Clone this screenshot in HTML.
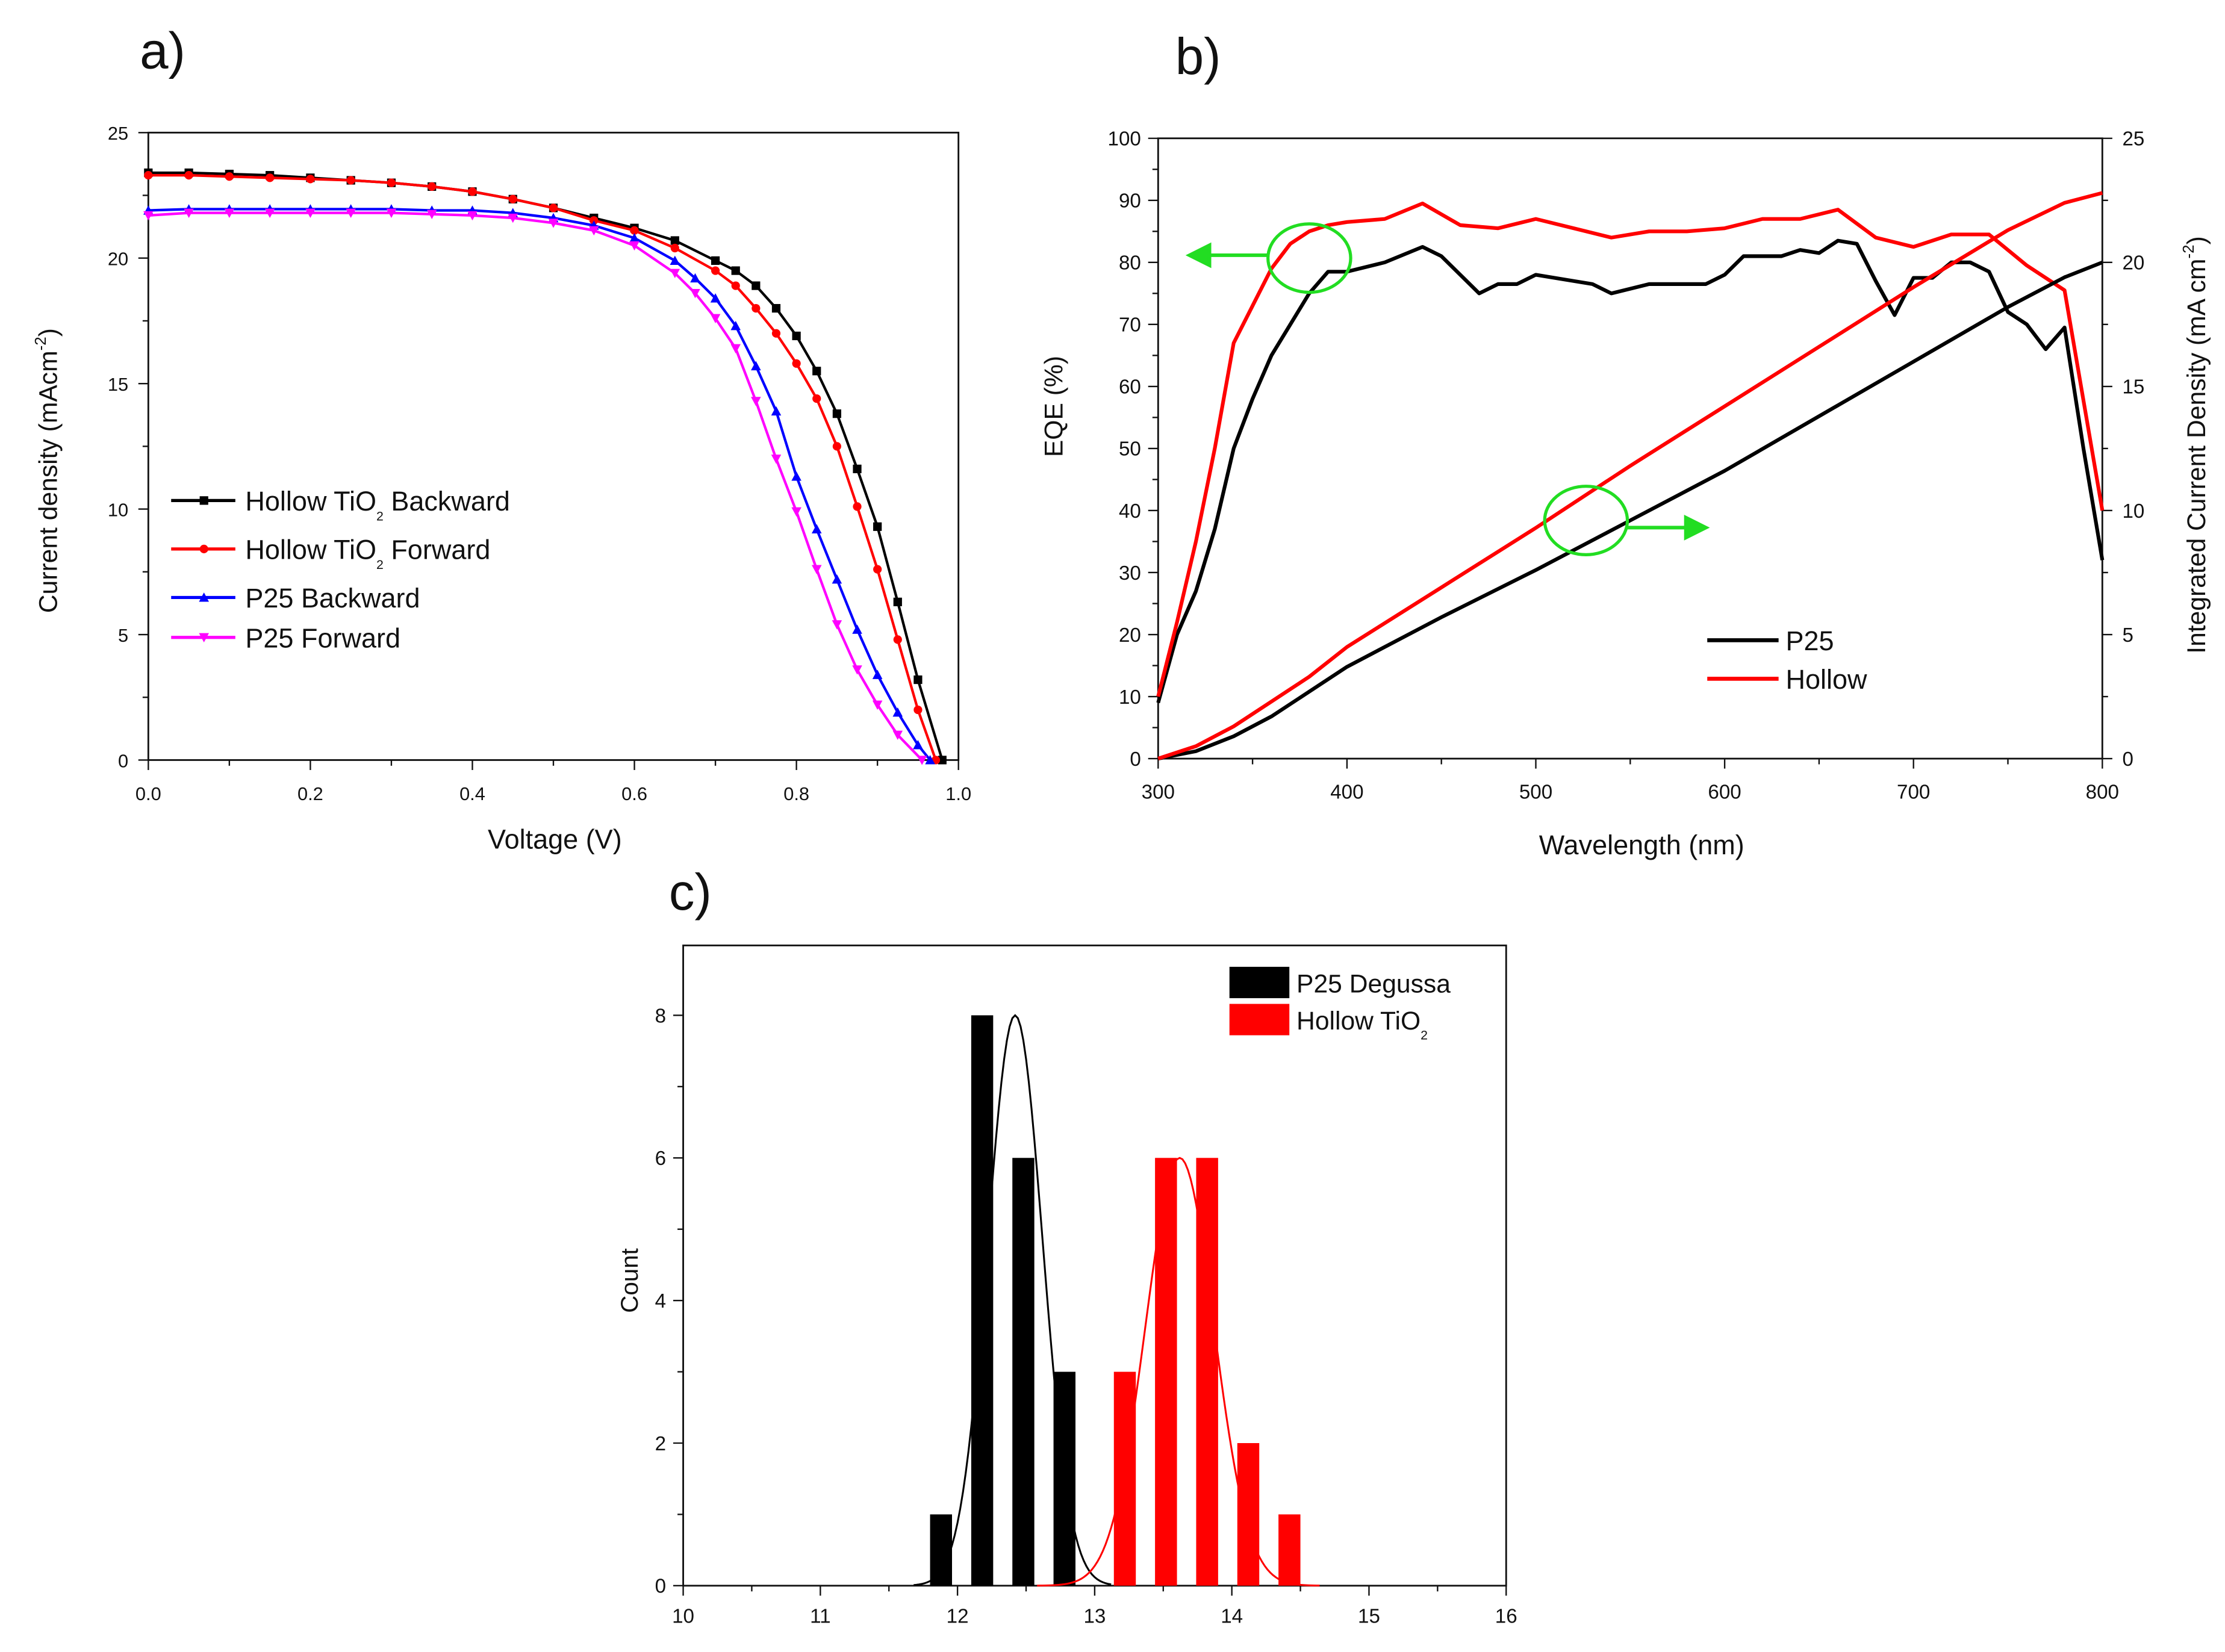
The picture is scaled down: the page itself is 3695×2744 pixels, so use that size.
<!DOCTYPE html>
<html><head><meta charset="utf-8"><style>
html,body{margin:0;padding:0;background:#fff;}
svg{display:block;font-family:"Liberation Sans",sans-serif;}
</style></head><body>
<svg id="fig" width="3695" height="2744" viewBox="0 0 1560 1158.5" preserveAspectRatio="none" xmlns="http://www.w3.org/2000/svg"></svg>
<script>
// ---------- Panel a data ----------
const jvHBV = [0,0.05,0.1,0.15,0.2,0.25,0.3,0.35,0.4,0.45,0.5,0.55,0.6,0.65,0.7,0.725,0.75,0.775,0.8,0.825,0.85,0.875,0.9,0.925,0.95,0.98];
const jvHBJ = [23.4,23.4,23.35,23.3,23.2,23.1,23.0,22.85,22.65,22.35,22.0,21.6,21.2,20.7,19.9,19.5,18.9,18.0,16.9,15.5,13.8,11.6,9.3,6.3,3.2,0];
const jvHFV = [0,0.05,0.1,0.15,0.2,0.25,0.3,0.35,0.4,0.45,0.5,0.55,0.6,0.65,0.7,0.725,0.75,0.775,0.8,0.825,0.85,0.875,0.9,0.925,0.95,0.972];
const jvHFJ = [23.3,23.3,23.25,23.2,23.15,23.1,23.0,22.85,22.65,22.35,22.0,21.5,21.1,20.4,19.5,18.9,18.0,17.0,15.8,14.4,12.5,10.1,7.6,4.8,2.0,0];
const jvPBV = [0,0.05,0.1,0.15,0.2,0.25,0.3,0.35,0.4,0.45,0.5,0.55,0.6,0.65,0.675,0.7,0.725,0.75,0.775,0.8,0.825,0.85,0.875,0.9,0.925,0.95,0.965];
const jvPBJ = [21.9,21.95,21.95,21.95,21.95,21.95,21.95,21.9,21.9,21.8,21.6,21.3,20.8,19.9,19.2,18.4,17.3,15.7,13.9,11.3,9.2,7.2,5.2,3.4,1.9,0.6,0];
const jvPFV = [0,0.05,0.1,0.15,0.2,0.25,0.3,0.35,0.4,0.45,0.5,0.55,0.6,0.65,0.675,0.7,0.725,0.75,0.775,0.8,0.825,0.85,0.875,0.9,0.925,0.955];
const jvPFJ = [21.7,21.8,21.8,21.8,21.8,21.8,21.8,21.75,21.7,21.6,21.4,21.1,20.5,19.4,18.6,17.6,16.4,14.3,12.0,9.9,7.6,5.4,3.6,2.2,1.0,0];
const aXTicks = [0,0.2,0.4,0.6,0.8,1.0];
const aXLabels = ["0.0","0.2","0.4","0.6","0.8","1.0"];
const aYTicks = [0,5,10,15,20,25];
// ---------- Panel b data ----------
const eqeP25W = [300,310,320,330,340,350,360,370,380,390,400,420,440,450,460,470,480,490,500,520,530,540,560,580,590,600,610,630,640,650,660,670,680,690,700,710,720,730,740,750,760,770,780,790,800];
const eqeP25 = [9,20,27,37,50,58,65,70,75,78.5,78.5,80,82.5,81,78,75,76.5,76.5,78,77,76.5,75,76.5,76.5,76.5,78,81,81,82,81.5,83.5,83,77,71.5,77.5,77.5,80,80,78.5,72,70,66,69.5,50,32];
const eqeHolW = [300,310,320,330,340,350,360,370,380,390,400,420,440,460,480,500,520,540,560,580,600,620,640,660,680,700,720,740,760,780,800];
const eqeHol = [10,22,35,50,67,73,79,83,85,86,86.5,87,89.5,86,85.5,87,85.5,84,85,85,85.5,87,87,88.5,84,82.5,84.5,84.5,79.5,75.5,40];
const intW = [300,320,340,360,380,400,450,500,550,600,650,700,750,780,800];
const intP25 = [0,0.3,0.9,1.7,2.7,3.7,5.7,7.6,9.6,11.6,13.8,16.0,18.2,19.4,20];
const intHol = [0,0.5,1.3,2.3,3.3,4.5,6.9,9.3,11.8,14.2,16.6,19.0,21.3,22.4,22.8];
const bXTicks = [300,400,500,600,700,800];
const bYTicks = [0,10,20,30,40,50,60,70,80,90,100];
const bY2Ticks = [0,5,10,15,20,25];
// ---------- Panel c data ----------
const histP25X = [11.88,12.18,12.48,12.78];
const histP25N = [1,8,6,3];
const histHolX = [13.22,13.52,13.82,14.12,14.42];
const histHolN = [3,6,6,2,1];
const fitP25 = [12.42,8,0.2];   // center, height, sigma
const fitHol = [13.62,6,0.25];
const cXTicks = [10,11,12,13,14,15,16];
const cYTicks = [0,2,4,6,8];

const NS="http://www.w3.org/2000/svg";
const svg=document.getElementById('fig');
function mk(tag,attrs,parent){const e=document.createElementNS(NS,tag);for(const k in attrs)e.setAttribute(k,attrs[k]);(parent||svg).appendChild(e);return e;}
function txt(s,x,y,size,anchor,parent,extra){const t=mk('text',Object.assign({x:x,y:y,'font-size':size,'text-anchor':anchor||'middle',fill:'#111'},extra||{}),parent);t.textContent=s;return t;}

// ===== Panel a =====
const ga=mk('g',{});


const aL=104,aR=672,aT=93,aB=533;
const ax=v=>aL+(v-0)/(1.0)*(aR-aL), ay=j=>aB-(j/25)*(aB-aT);
const aBox=mk('rect',{x:aL,y:aT,width:aR-aL,height:aB-aT,fill:'none',stroke:'#111','stroke-width':1.2},ga);


for(let i=0;i<=10;i++){const v=i*0.1;mk('line',{x1:ax(v),x2:ax(v),y1:aB,y2:aB+(i%2?4:7),stroke:'#111','stroke-width':1},ga);}
aXTicks.forEach((v,i)=>{const t=txt(aXLabels[i],ax(v),aB+28,13,'middle',ga);});
for(let j=0;j<=25;j+=2.5){mk('line',{x1:aL,x2:aL-(j%5?4:7),y1:ay(j),y2:ay(j),stroke:'#111','stroke-width':1},ga);}
aYTicks.forEach(j=>{const t=txt(String(j),aL-14,ay(j)+5,13,'end',ga);});
const axt=txt('Voltage (V)',389,595,19,'middle',ga);


const ayt=txt('',0,0,18,'middle',ga,{transform:'translate(40,330) rotate(-90)'});
ayt.innerHTML='Current density (mAcm<tspan font-size="11" dy="-8">-2</tspan><tspan dy="8">)</tspan>';


function marker(type,x,y,c,p){
  if(type==='sq')return mk('rect',{x:x-3,y:y-3,width:6,height:6,fill:c},p);
  if(type==='ci')return mk('circle',{cx:x,cy:y,r:3,fill:c},p);
  if(type==='up')return mk('path',{d:`M${x},${y-3.5}L${x+3.5},${y+3}L${x-3.5},${y+3}Z`,fill:c},p);
  return mk('path',{d:`M${x},${y+3.5}L${x+3.5},${y-3}L${x-3.5},${y-3}Z`,fill:c},p);
}
const jvSeries=[[jvHBV,jvHBJ,'#000','sq','hollow-backward'],[jvHFV,jvHFJ,'#f00','ci','hollow-forward'],[jvPBV,jvPBJ,'#00f','up','p25-backward'],[jvPFV,jvPFJ,'#f0f','dn','p25-forward']];
jvSeries.forEach(s=>{
  const pts=s[0].map((v,i)=>ax(v)+','+ay(s[1][i])).join(' ');
  const l=mk('polyline',{points:pts,fill:'none',stroke:s[2],'stroke-width':1.8,'stroke-linejoin':'round'},ga);
  
  
  s[0].forEach((v,i)=>{const m=marker(s[3],ax(v),ay(s[1][i]),s[2],ga);
    
    });
});
const aLeg=[['Hollow TiO','2',' Backward','#000','sq',351],['Hollow TiO','2',' Forward','#f00','ci',385],['P25 Backward','','','#00f','up',419],['P25 Forward','','','#f0f','dn',447]];
aLeg.forEach(e=>{
  const g=mk('g',{},ga);
  
  
  mk('line',{x1:120,x2:165,y1:e[5],y2:e[5],stroke:e[3],'stroke-width':2.2},g);
  marker(e[4],143,e[5],e[3],g);
  const t=txt('',172,e[5]+7,19,'start',g);
  t.innerHTML=e[0]+(e[1]?'<tspan font-size="9" dy="7">2</tspan><tspan dy="-7">'+e[2]+'</tspan>':'');
});
const la=txt('a)',114,48,36,'middle');



// ===== Panel b =====
const gb=mk('g',{});


const bL=812,bR=1474,bT=97,bB=532;
const bx=w=>bL+(w-300)/500*(bR-bL), by=e=>bB-e/100*(bB-bT), by2=j=>bB-j/25*(bB-bT);
const bBox=mk('rect',{x:bL,y:bT,width:bR-bL,height:bB-bT,fill:'none',stroke:'#111','stroke-width':1.2},gb);


for(let w=300;w<=800;w+=50)mk('line',{x1:bx(w),x2:bx(w),y1:bB,y2:bB+((w%100)?4:7),stroke:'#111'},gb);
bXTicks.forEach(w=>{const t=txt(String(w),bx(w),bB+28,14,'middle',gb);});
for(let e=0;e<=100;e+=5)mk('line',{x1:bL,x2:bL-((e%10)?4:7),y1:by(e),y2:by(e),stroke:'#111'},gb);
bYTicks.forEach(e=>{const t=txt(String(e),bL-12,by(e)+5,14,'end',gb);});
for(let j=0;j<=25;j+=2.5)mk('line',{x1:bR,x2:bR+((j%5)?4:7),y1:by2(j),y2:by2(j),stroke:'#111'},gb);
bY2Ticks.forEach(j=>{const t=txt(String(j),bR+14,by2(j)+5,14,'start',gb);});
const bxt=txt('Wavelength (nm)',1151,599,19,'middle',gb);


const byt=txt('EQE (%)',0,0,18,'middle',gb,{transform:'translate(745,285) rotate(-90)'});


const by2t=txt('',0,0,18,'middle',gb,{transform:'translate(1546,312) rotate(-90)'});
by2t.innerHTML='Integrated Current Density (mA cm<tspan font-size="11" dy="-8">-2</tspan><tspan dy="8">)</tspan>';


const bSeries=[[eqeP25W,eqeP25,by,'#000','eqe-p25-line'],[eqeHolW,eqeHol,by,'#f00','eqe-hollow-line'],[intW,intP25,by2,'#000','integrated-p25-line'],[intW,intHol,by2,'#f00','integrated-hollow-line']];
bSeries.forEach(s=>{
  const pts=s[0].map((w,i)=>bx(w)+','+s[2](s[1][i])).join(' ');
  const l=mk('polyline',{points:pts,fill:'none',stroke:s[3],'stroke-width':2.6,'stroke-linejoin':'round'},gb);
  
  
});
const c1=mk('ellipse',{cx:918,cy:181,rx:29,ry:24,fill:'none',stroke:'#22dd22','stroke-width':2.2},gb);


const a1=mk('path',{d:'M889,179 L846,179 M834,179 L848,172 L848,186 Z',stroke:'#22dd22','stroke-width':2.5,fill:'#22dd22'},gb);


const c2=mk('ellipse',{cx:1112,cy:365,rx:29,ry:24,fill:'none',stroke:'#22dd22','stroke-width':2.2},gb);


const a2=mk('path',{d:'M1141,370 L1182,370 M1196,370 L1182,363 L1182,377 Z',stroke:'#22dd22','stroke-width':2.5,fill:'#22dd22'},gb);


[['P25','#000',449],['Hollow','#f00',476]].forEach(e=>{
  const g=mk('g',{},gb);
  
  
  mk('line',{x1:1197,x2:1247,y1:e[2],y2:e[2],stroke:e[1],'stroke-width':2.8},g);
  txt(e[0],1252,e[2]+7,19,'start',g);
});
const lb=txt('b)',840,52,36,'middle');



// ===== Panel c =====
const gc=mk('g',{});


const cL=479,cR=1056,cT=663,cB=1112;
const cx=d=>cL+(d-10)/6*(cR-cL), cy=n=>cB-n/8*(cB-712);
const cBox=mk('rect',{x:cL,y:cT,width:cR-cL,height:cB-cT,fill:'none',stroke:'#111','stroke-width':1.2},gc);


for(let d=10;d<=16;d+=0.5)mk('line',{x1:cx(d),x2:cx(d),y1:cB,y2:cB+((d%1)?4:7),stroke:'#111'},gc);
cXTicks.forEach(d=>{const t=txt(String(d),cx(d),cB+26,14,'middle',gc);});
for(let n=0;n<=8;n+=1)mk('line',{x1:cL,x2:cL-((n%2)?4:7),y1:cy(n),y2:cy(n),stroke:'#111'},gc);
cYTicks.forEach(n=>{const t=txt(String(n),cL-12,cy(n)+5,14,'end',gc);});
const cyt=txt('Count',0,0,17,'middle',gc,{transform:'translate(447,898) rotate(-90)'});


const bw=0.16;
histP25X.forEach((d,i)=>{const r=mk('rect',{x:cx(d-bw/2),y:cy(histP25N[i]),width:cx(d+bw/2)-cx(d-bw/2),height:cB-cy(histP25N[i]),fill:'#000'},gc);
  
  });
histHolX.forEach((d,i)=>{const r=mk('rect',{x:cx(d-bw/2),y:cy(histHolN[i]),width:cx(d+bw/2)-cx(d-bw/2),height:cB-cy(histHolN[i]),fill:'#f00'},gc);
  
  });
function fit(p,lo,hi,c,name){
  const pts=[];for(let d=lo;d<=hi+1e-9;d+=0.02){pts.push(cx(d)+','+cy(p[1]*Math.exp(-((d-p[0])**2)/(2*p[2]*p[2]))));}
  const l=mk('polyline',{points:pts.join(' '),fill:'none',stroke:c,'stroke-width':1.3},gc);
  
  
}
fit(fitP25,11.68,13.12,'#000','p25-gaussian-fit');
fit(fitHol,12.58,14.64,'#f00','hollow-gaussian-fit');
[['P25 Degussa','','#000',678],['Hollow TiO','2','#f00',704]].forEach(e=>{
  const g=mk('g',{},gc);
  
  
  mk('rect',{x:862,y:e[3],width:42,height:22,fill:e[2]},g);
  const t=txt('',909,e[3]+18,18,'start',g);
  t.innerHTML=e[0]+(e[1]?'<tspan font-size="9" dy="7">2</tspan>':'');
});
const lc=txt('c)',484,638,36,'middle');


</script>
</body></html>
